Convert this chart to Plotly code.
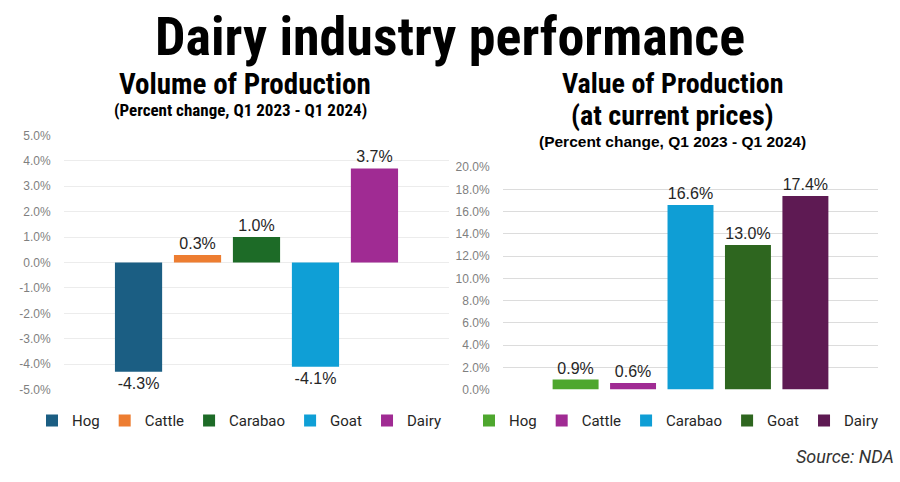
import plotly.graph_objects as go

W, H = 900, 482

def fy(px):
    return 1 - px / H

def fx(px):
    return px / W

# ---- data ----
series = ["Hog", "Cattle", "Carabao", "Goat", "Dairy"]
category = ["Q1 2023 - Q1 2024"]
volume_change = [-4.3, 0.3, 1.0, -4.1, 3.7]
value_change = [0.9, 0.6, 16.6, 13.0, 17.4]
volume_colors = ["#1b5e83", "#ed7d31", "#1d6b27", "#0f9fd6", "#a02b93"]
value_colors = ["#4ea72e", "#a02b93", "#0f9ed5", "#2e661f", "#5e1a53"]
volume_ticks = [-5, -4, -3, -2, -1, 0, 1, 2, 3, 4, 5]
value_ticks = [0, 2, 4, 6, 8, 10, 12, 14, 16, 18, 20]

COND = "Roboto Condensed, Liberation Sans Narrow, DejaVu Sans Condensed, sans-serif"
ROB = "Roboto, Liberation Sans, sans-serif"
REG = "Liberation Sans, Arial, sans-serif"

fig = go.Figure()

for name, v, c in zip(series, volume_change, volume_colors):
    fig.add_trace(go.Bar(
        x=category, y=[v], name=name,
        marker=dict(color=c, line=dict(width=0)),
        texttemplate="%{y:.1f}%", textposition="outside", cliponaxis=False,
        textfont=dict(family=REG, size=16, color="#262626"),
        xaxis="x", yaxis="y", legend="legend", hoverinfo="skip"))

for name, v, c in zip(series, value_change, value_colors):
    fig.add_trace(go.Bar(
        x=category, y=[v], name=name,
        marker=dict(color=c, line=dict(width=0)),
        texttemplate="%{y:.1f}%", textposition="outside", cliponaxis=False,
        textfont=dict(family=REG, size=16, color="#262626"),
        xaxis="x2", yaxis="y2", legend="legend2", hoverinfo="skip"))

axis_common = dict(showline=False, zeroline=False, ticks="outside", ticklen=10,
                   tickcolor="rgba(0,0,0,0)",
                   tickfont=dict(family=REG, size=12, color="#7f7f7f"))

fig.update_layout(
    width=W, height=H, margin=dict(l=0, r=0, t=0, b=0),
    paper_bgcolor="white", plot_bgcolor="white",
    barmode="group", bargap=0.234, bargroupgap=0.2,
    xaxis=dict(domain=[fx(64), fx(449)], range=[-0.5, 0.5], showticklabels=False,
               showgrid=False, zeroline=False, showline=False, anchor="y"),
    yaxis=dict(domain=[fy(394), fy(132.3)], range=[-5, 5], tickmode="array",
               tickvals=volume_ticks, ticktext=[f"{t:.1f}%" for t in volume_ticks],
               showgrid=True, gridcolor="#ececec", gridwidth=1, anchor="x", **axis_common),
    xaxis2=dict(domain=[fx(503), fx(878)], range=[-0.5, 0.5], showticklabels=False,
                showgrid=False, zeroline=False, showline=False, anchor="y2"),
    yaxis2=dict(domain=[fy(394), fy(165)], range=[0, 20], tickmode="array",
                tickvals=value_ticks, ticktext=[f"{t:.1f}%" for t in value_ticks],
                showgrid=True, gridcolor="#dcdcdc", gridwidth=1, anchor="x2", **axis_common),
    legend=dict(orientation="h", x=fx(239), xanchor="center", y=fy(426), yanchor="middle",
                font=dict(family=ROB, size=15, color="#262626"), bgcolor="rgba(0,0,0,0)",
                itemwidth=30),
    legend2=dict(orientation="h", x=fx(676), xanchor="center", y=fy(426), yanchor="middle",
                 font=dict(family=ROB, size=15, color="#262626"), bgcolor="rgba(0,0,0,0)",
                 itemwidth=30),
    showlegend=True,
)

annos = [
    dict(text="<b>Dairy industry performance</b>", x=0.5, y=fy(30), size=54, family=COND, color="#000000"),
    dict(text="<b>Volume of Production</b>", x=fx(245), y=fy(79), size=29, family=COND, color="#000000"),
    dict(text="<b>(Percent change, Q1 2023 - Q1 2024)</b>", x=fx(240), y=fy(106), size=17, family=COND, color="#000000"),
    dict(text="<b>Value of Production</b>", x=fx(672), y=fy(79), size=28, family=COND, color="#000000"),
    dict(text="<b>(at current prices)</b>", x=fx(672), y=fy(112), size=28, family=COND, color="#000000"),
    dict(text="<b>(Percent change, Q1 2023 - Q1 2024)</b>", x=fx(672), y=fy(139), size=15.5, family=REG, color="#000000"),
]
for a in annos:
    fig.add_annotation(text=a["text"], x=a["x"], y=a["y"], xref="paper", yref="paper",
                       xanchor="center", yanchor="middle", showarrow=False,
                       font=dict(family=a["family"], size=a["size"], color=a["color"]))

fig.add_annotation(text="<i>Source: NDA</i>", x=fx(896), y=fy(463), xref="paper", yref="paper",
                   xanchor="right", yanchor="middle", showarrow=False,
                   font=dict(family=ROB, size=18, color="#333333"))

fig.write_html("out.html")
